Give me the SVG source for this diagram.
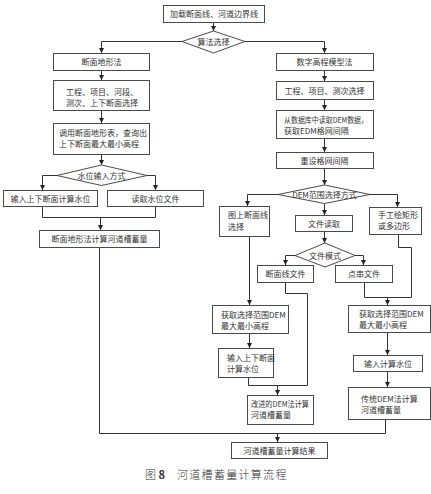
<svg xmlns="http://www.w3.org/2000/svg" width="431" height="494" viewBox="0 0 431 494">
<style>
.b{fill:#fff;stroke:#4a4a4a;stroke-width:1}
.t{font-family:"Noto Sans CJK SC","Liberation Sans",sans-serif;font-size:8px;fill:#333}
.c{text-anchor:middle}
.l{fill:none;stroke:#333;stroke-width:1}
.cap{font-family:"Noto Sans CJK SC","Liberation Serif",serif;font-size:11px;fill:#333;font-weight:300}
</style>
<defs>
<marker id="ah" markerUnits="userSpaceOnUse" markerWidth="5" markerHeight="5" refX="5" refY="2.5" orient="auto">
<path d="M0,0 L5,2.5 L0,5 z" fill="#222"/>
</marker>
</defs>
<rect width="431" height="494" fill="#fff"/>
<g id="connectors">
<path class="l" d="M213.5,22 V31" marker-end="url(#ah)"/>
<path class="l" d="M182,41.5 H101.5 V53" marker-end="url(#ah)"/>
<path class="l" d="M245,41.5 H324.5 V53" marker-end="url(#ah)"/>
<path class="l" d="M101.5,71 V80" marker-end="url(#ah)"/>
<path class="l" d="M101.5,111 V123" marker-end="url(#ah)"/>
<path class="l" d="M101.5,155 V165" marker-end="url(#ah)"/>
<path class="l" d="M57,175.5 H42.5 V190" marker-end="url(#ah)"/>
<path class="l" d="M147,175.5 H155.5 V190" marker-end="url(#ah)"/>
<path class="l" d="M42.5,207 V217.5 H155.5 V207"/>
<path class="l" d="M100.5,217.5 V230" marker-end="url(#ah)"/>
<path class="l" d="M99.5,248 V433.5 H385.5 V420"/>
<path class="l" d="M324.5,71 V81" marker-end="url(#ah)"/>
<path class="l" d="M324.5,100 V110" marker-end="url(#ah)"/>
<path class="l" d="M324.5,139 V152" marker-end="url(#ah)"/>
<path class="l" d="M324.5,169 V185" marker-end="url(#ah)"/>
<path class="l" d="M278,194.5 H247.5 V206" marker-end="url(#ah)"/>
<path class="l" d="M370,194.5 H397.5 V207" marker-end="url(#ah)"/>
<path class="l" d="M324.5,203 V215" marker-end="url(#ah)"/>
<path class="l" d="M324.5,232 V243" marker-end="url(#ah)"/>
<path class="l" d="M295,255.5 H285.5 V265" marker-end="url(#ah)"/>
<path class="l" d="M355,255.5 H363.5 V265" marker-end="url(#ah)"/>
<path class="l" d="M249.5,237 V305" marker-end="url(#ah)"/>
<path class="l" d="M285.5,283 V293.5 H307.5 V385.5 H248.5 V378"/>
<path class="l" d="M364.5,283 V297.5 H411.5 V247.5 H398.5 V235"/>
<path class="l" d="M387.5,297.5 V305" marker-end="url(#ah)"/>
<path class="l" d="M249.5,334 V348" marker-end="url(#ah)"/>
<path class="l" d="M277.5,385.5 V395" marker-end="url(#ah)"/>
<path class="l" d="M387.5,333 V355" marker-end="url(#ah)"/>
<path class="l" d="M387.5,372 V387" marker-end="url(#ah)"/>
<path class="l" d="M277.5,433.5 V442" marker-end="url(#ah)"/>
</g>
<g id="n_top"><rect class="b" x="163.5" y="5.5" width="101" height="17"/><text class="t c" x="214" y="17">加载断面线、河道边界线</text></g>
<g id="n_alg"><polygon class="b" points="213.5,31 245,41.5 213.5,53 182,41.5"/><text class="t c" x="213.5" y="44.5">算法选择</text></g>
<g id="n_l1"><rect class="b" x="53.5" y="53.5" width="96" height="17"/><text class="t c" x="101.5" y="65">断面地形法</text></g>
<g id="n_l2"><rect class="b" x="53.5" y="80.5" width="96" height="30"/><text class="t" x="66" y="94.5">工程、项目、河段、</text><text class="t" x="66" y="105.5">测次、上下断面选择</text></g>
<g id="n_l3"><rect class="b" x="53.5" y="123.5" width="96" height="31"/><text class="t" x="59" y="135.5">调用断面地形表，查询出</text><text class="t" x="59" y="146.5">上下断面最大最小高程</text></g>
<g id="n_wl"><polygon class="b" points="101.5,165 147,175.5 101.5,185.5 57,175.5"/><text class="t c" x="101.5" y="178.5">水位输入方式</text></g>
<g id="n_l4"><rect class="b" x="3.5" y="190.5" width="94" height="16"/><text class="t c" x="50.5" y="201.5">输入上下断面计算水位</text></g>
<g id="n_l5"><rect class="b" x="107.5" y="190.5" width="96" height="16"/><text class="t c" x="155.5" y="201.5">读取水位文件</text></g>
<g id="n_l6"><rect class="b" x="39.5" y="230.5" width="120" height="17"/><text class="t c" x="99.5" y="242">断面地形法计算河道槽蓄量</text></g>
<g id="n_r1"><rect class="b" x="276.5" y="53.5" width="97" height="17"/><text class="t c" x="324.5" y="65">数字高程模型法</text></g>
<g id="n_r2"><rect class="b" x="276.5" y="81.5" width="97" height="18"/><text class="t c" x="324.5" y="93.5">工程、项目、测次选择</text></g>
<g id="n_r3"><rect class="b" x="276.5" y="110.5" width="97" height="28"/><text class="t" x="284" y="122.5" textLength="84" lengthAdjust="spacingAndGlyphs">从数据库中读取DEM数据，</text><text class="t" x="284" y="133.5">获取EDM格网间隔</text></g>
<g id="n_r4"><rect class="b" x="276.5" y="152.5" width="97" height="16"/><text class="t c" x="324.5" y="163.5">重设格网间隔</text></g>
<g id="n_dem"><polygon class="b" points="324.5,185 370,194.5 324.5,203.5 278,194.5"/><text class="t c" x="324.5" y="197.5">DEM范围选择方式</text></g>
<g id="n_r5"><rect class="b" x="219.5" y="206.5" width="50" height="30"/><text class="t" x="228" y="218">图上断面线</text><text class="t" x="228" y="229.5">选择</text></g>
<g id="n_r6"><rect class="b" x="295.5" y="215.5" width="57" height="16"/><text class="t c" x="324" y="226.5">文件读取</text></g>
<g id="n_r7"><rect class="b" x="369.5" y="207.5" width="52" height="27"/><text class="t" x="378" y="218">手工绘矩形</text><text class="t" x="378" y="229">或多边形</text></g>
<g id="n_fm"><polygon class="b" points="325,243 355,255.5 325,267 295,255.5"/><text class="t c" x="325" y="258.5">文件模式</text></g>
<g id="n_r8"><rect class="b" x="257.5" y="265.5" width="56" height="17"/><text class="t c" x="285.5" y="277">断面线文件</text></g>
<g id="n_r9"><rect class="b" x="335.5" y="265.5" width="57" height="17"/><text class="t c" x="364" y="277">点串文件</text></g>
<g id="n_r10"><rect class="b" x="212.5" y="305.5" width="76" height="28"/><text class="t" x="221" y="317.5">获取选择范围DEM</text><text class="t" x="221" y="328.5">最大最小高程</text></g>
<g id="n_r11"><rect class="b" x="218.5" y="348.5" width="55" height="29"/><text class="t" x="227" y="360.5">输入上下断面</text><text class="t" x="227" y="371.5">计算水位</text></g>
<g id="n_r12"><rect class="b" x="247.5" y="395.5" width="66" height="29"/><text class="t" x="251" y="406.5" textLength="58" lengthAdjust="spacingAndGlyphs">改进的DEM法计算</text><text class="t" x="251" y="417.5">河道槽蓄量</text></g>
<g id="n_r13"><rect class="b" x="348.5" y="305.5" width="82" height="27"/><text class="t" x="359" y="316.5">获取选择范围DEM</text><text class="t" x="359" y="327.5">最大最小高程</text></g>
<g id="n_r14"><rect class="b" x="353.5" y="355.5" width="69" height="16"/><text class="t c" x="388" y="366.5">输入计算水位</text></g>
<g id="n_r15"><rect class="b" x="348.5" y="387.5" width="82" height="32"/><text class="t" x="361" y="401.5">传统DEM法计算</text><text class="t" x="361" y="412.5">河道槽蓄量</text></g>
<g id="n_end"><rect class="b" x="231.5" y="442.5" width="96" height="16"/><text class="t c" x="279.5" y="453.5">河道槽蓄量计算结果</text></g>
<text class="cap" x="145" y="479">图 <tspan font-weight="bold">8</tspan></text>
<text class="cap" x="177" y="479" letter-spacing="1.3">河道槽蓄量计算流程</text>
</svg>
